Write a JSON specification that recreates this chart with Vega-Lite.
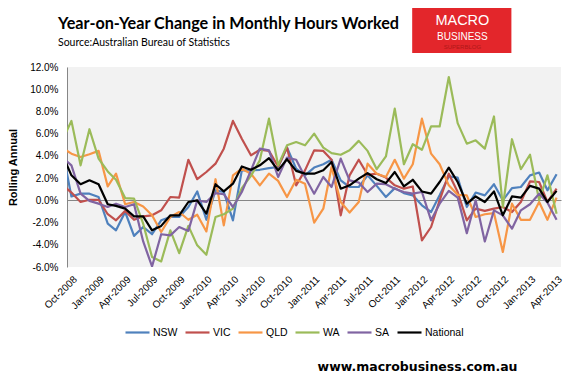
{
 "$schema": "https://vega.github.io/schema/vega-lite/v6.json",
 "width": 494,
 "height": 200,
 "autosize": "none",
 "padding": {"left": 67, "top": 67, "right": 14, "bottom": 113},
 "background": "#ffffff",
 "config": {"view": {"fill": "#F2F2F2", "stroke": null}, "font": "Liberation Sans", "axis": {"labelOverlap": false}},
 "resolve": {"axis": {"x": "independent", "y": "independent"}},
 "title": {
  "text": "Year-on-Year Change in Monthly Hours Worked",
  "subtitle": "Source:Australian Bureau of Statistics",
  "anchor": "start", "frame": "group", "dx": -9, "offset": -40,
  "font": "Lato", "fontSize": 16.2, "fontWeight": "bold", "color": "#000000",
  "subtitleFont": "Lato", "subtitleFontSize": 10.5, "subtitleColor": "#000000", "subtitlePadding": 5
 },
 "layer": [
  {
   "data": {"values": [
    {"month": "2008/09/01", "NSW": 4.45, "VIC": 1.4, "QLD": 4.7, "WA": 5.45, "SA": 3.85, "National": 4.05},
    {"month": "2008/10/01", "NSW": 0.35, "VIC": 0.7, "QLD": 4.2, "WA": 7.15, "SA": 3.15, "National": 2.25},
    {"month": "2008/11/01", "NSW": 0.6, "VIC": -0.15, "QLD": 3.9, "WA": 3.15, "SA": 0.6, "National": 1.45},
    {"month": "2008/12/01", "NSW": 0.6, "VIC": 0.05, "QLD": 4.15, "WA": 6.4, "SA": -0.05, "National": 1.8},
    {"month": "2009/01/01", "NSW": 0.3, "VIC": 0.05, "QLD": 4.45, "WA": 3.75, "SA": -0.3, "National": 1.45},
    {"month": "2009/02/01", "NSW": -2.1, "VIC": -1.25, "QLD": 1.25, "WA": 2.6, "SA": -0.6, "National": -0.35},
    {"month": "2009/03/01", "NSW": -2.7, "VIC": -1.8, "QLD": 2.4, "WA": 1.85, "SA": -0.3, "National": -0.5},
    {"month": "2009/04/01", "NSW": -1.05, "VIC": -0.95, "QLD": -0.35, "WA": 0.2, "SA": -0.6, "National": -0.75},
    {"month": "2009/05/01", "NSW": -3.2, "VIC": -1.75, "QLD": -0.15, "WA": 0.15, "SA": -0.35, "National": -1.45},
    {"month": "2009/06/01", "NSW": -2.4, "VIC": -1.45, "QLD": -0.55, "WA": -2.1, "SA": -3.7, "National": -1.45},
    {"month": "2009/07/01", "NSW": -3.05, "VIC": -1.35, "QLD": -1.35, "WA": -5.1, "SA": -5.95, "National": -2.7},
    {"month": "2009/08/01", "NSW": -1.8, "VIC": -0.9, "QLD": -2.85, "WA": -5.5, "SA": -3.05, "National": -2.3},
    {"month": "2009/09/01", "NSW": -1.5, "VIC": 0.3, "QLD": -1.5, "WA": -2.7, "SA": -3.15, "National": -1.35},
    {"month": "2009/10/01", "NSW": -1.5, "VIC": 0.25, "QLD": -1.05, "WA": -4.75, "SA": -2.4, "National": -1.35},
    {"month": "2009/11/01", "NSW": -0.6, "VIC": 3.65, "QLD": -1.75, "WA": -2.3, "SA": -2.75, "National": -0.15},
    {"month": "2009/12/01", "NSW": 0.8, "VIC": 1.9, "QLD": -1.3, "WA": -4.05, "SA": 0.0, "National": 0.0},
    {"month": "2010/01/01", "NSW": -1.75, "VIC": 2.55, "QLD": -2.8, "WA": -4.9, "SA": -0.15, "National": -1.2},
    {"month": "2010/02/01", "NSW": 0.9, "VIC": 3.3, "QLD": 1.9, "WA": -1.5, "SA": 0.65, "National": 1.45},
    {"month": "2010/03/01", "NSW": 0.75, "VIC": 4.65, "QLD": -2.25, "WA": -1.25, "SA": 0.55, "National": 0.8},
    {"month": "2010/04/01", "NSW": -1.8, "VIC": 7.15, "QLD": 2.25, "WA": -0.75, "SA": -0.6, "National": 1.5},
    {"month": "2010/05/01", "NSW": 2.7, "VIC": 5.55, "QLD": 2.85, "WA": 1.1, "SA": 0.75, "National": 3.05},
    {"month": "2010/06/01", "NSW": 2.7, "VIC": 4.05, "QLD": 2.4, "WA": 2.2, "SA": 2.7, "National": 2.75},
    {"month": "2010/07/01", "NSW": 2.75, "VIC": 4.55, "QLD": 1.35, "WA": 3.6, "SA": 4.65, "National": 3.15},
    {"month": "2010/08/01", "NSW": 2.9, "VIC": 4.45, "QLD": 2.4, "WA": 7.35, "SA": 4.5, "National": 3.8},
    {"month": "2010/09/01", "NSW": 3.0, "VIC": 3.05, "QLD": 1.75, "WA": 3.15, "SA": 2.1, "National": 2.7},
    {"month": "2010/10/01", "NSW": 4.75, "VIC": 4.75, "QLD": 0.3, "WA": 4.95, "SA": 3.85, "National": 3.7},
    {"month": "2010/11/01", "NSW": 2.85, "VIC": 1.35, "QLD": 1.85, "WA": 5.25, "SA": 3.65, "National": 2.65},
    {"month": "2010/12/01", "NSW": 2.25, "VIC": 2.7, "QLD": 1.5, "WA": 4.95, "SA": 2.1, "National": 2.4},
    {"month": "2011/01/01", "NSW": 2.95, "VIC": 4.5, "QLD": -2.0, "WA": 6.0, "SA": 0.6, "National": 2.4},
    {"month": "2011/02/01", "NSW": 3.25, "VIC": 4.45, "QLD": -0.75, "WA": 4.75, "SA": 2.1, "National": 2.7},
    {"month": "2011/03/01", "NSW": 3.65, "VIC": 3.65, "QLD": 3.0, "WA": 4.25, "SA": 1.2, "National": 3.45},
    {"month": "2011/04/01", "NSW": 1.8, "VIC": -1.35, "QLD": -0.15, "WA": 4.1, "SA": 3.75, "National": 1.05},
    {"month": "2011/05/01", "NSW": 1.2, "VIC": 2.25, "QLD": -1.1, "WA": 4.5, "SA": 1.8, "National": 1.35},
    {"month": "2011/06/01", "NSW": 1.2, "VIC": 3.65, "QLD": -0.15, "WA": 5.35, "SA": 1.6, "National": 1.95},
    {"month": "2011/07/01", "NSW": 2.25, "VIC": 2.3, "QLD": 3.3, "WA": 4.45, "SA": 0.75, "National": 2.45},
    {"month": "2011/08/01", "NSW": 1.3, "VIC": 2.4, "QLD": 2.4, "WA": 2.8, "SA": 1.5, "National": 1.9},
    {"month": "2011/09/01", "NSW": 0.3, "VIC": 2.05, "QLD": 2.1, "WA": 3.95, "SA": 1.45, "National": 1.55},
    {"month": "2011/10/01", "NSW": 1.1, "VIC": 1.35, "QLD": 3.65, "WA": 8.25, "SA": 1.05, "National": 2.55},
    {"month": "2011/11/01", "NSW": 0.65, "VIC": 1.05, "QLD": 1.95, "WA": 3.25, "SA": 0.75, "National": 1.25},
    {"month": "2011/12/01", "NSW": 0.45, "VIC": 1.25, "QLD": 3.25, "WA": 5.05, "SA": 0.6, "National": 1.85},
    {"month": "2012/01/01", "NSW": -0.45, "VIC": -3.6, "QLD": 7.35, "WA": 4.55, "SA": 0.75, "National": 0.8},
    {"month": "2012/02/01", "NSW": -1.05, "VIC": -2.4, "QLD": 4.2, "WA": 6.65, "SA": -1.8, "National": 0.6},
    {"month": "2012/03/01", "NSW": 0.45, "VIC": 0.0, "QLD": 3.25, "WA": 6.65, "SA": -0.3, "National": 1.65},
    {"month": "2012/04/01", "NSW": 2.15, "VIC": 2.4, "QLD": 1.35, "WA": 11.1, "SA": 0.85, "National": 2.95},
    {"month": "2012/05/01", "NSW": 2.05, "VIC": 0.75, "QLD": 0.5, "WA": 6.95, "SA": 0.25, "National": 1.65},
    {"month": "2012/06/01", "NSW": -0.6, "VIC": -1.8, "QLD": 0.45, "WA": 5.1, "SA": -2.95, "National": -0.3},
    {"month": "2012/07/01", "NSW": 0.7, "VIC": -0.75, "QLD": -1.5, "WA": 5.4, "SA": 0.0, "National": 0.35},
    {"month": "2012/08/01", "NSW": 0.45, "VIC": -0.95, "QLD": -1.25, "WA": 4.65, "SA": -3.7, "National": -0.15},
    {"month": "2012/09/01", "NSW": 1.45, "VIC": -0.75, "QLD": -1.15, "WA": 7.55, "SA": -0.9, "National": 0.8},
    {"month": "2012/10/01", "NSW": 0.0, "VIC": -0.6, "QLD": -4.65, "WA": -0.6, "SA": -1.35, "National": -1.35},
    {"month": "2012/11/01", "NSW": 1.1, "VIC": -1.05, "QLD": -0.3, "WA": 5.5, "SA": -2.55, "National": 0.35},
    {"month": "2012/12/01", "NSW": 1.2, "VIC": -0.15, "QLD": -1.75, "WA": 2.8, "SA": -0.9, "National": 0.25},
    {"month": "2013/01/01", "NSW": 2.25, "VIC": 1.7, "QLD": -1.75, "WA": 4.1, "SA": -0.35, "National": 1.3},
    {"month": "2013/02/01", "NSW": 2.5, "VIC": 1.65, "QLD": -0.15, "WA": 0.0, "SA": 0.6, "National": 1.05},
    {"month": "2013/03/01", "NSW": 0.9, "VIC": -0.15, "QLD": -1.75, "WA": 2.25, "SA": -0.2, "National": -0.15},
    {"month": "2013/04/01", "NSW": 2.35, "VIC": 1.05, "QLD": 0.25, "WA": -1.2, "SA": -1.75, "National": 0.85}
   ]},
   "transform": [{"fold": ["NSW", "VIC", "QLD", "WA", "SA", "National"], "as": ["series", "value"]}],
   "mark": {"type": "line", "clip": true, "strokeJoin": "round"},
   "encoding": {
    "x": {
     "field": "month", "type": "temporal",
     "scale": {"domain": [{"year": 2008, "month": 9, "date": 16}, {"year": 2013, "month": 4, "date": 16}]},
     "axis": {
      "orient": "bottom",
      "title": "www.macrobusiness.com.au",
      "titleFont": "DejaVu Sans", "titleFontWeight": "bold", "titleFontSize": 12.5, "titleColor": "#000000",
      "titleX": 450, "titleY": 103, "titleAlign": "right", "titleBaseline": "alphabetic",
      "values": [
       {"year": 2008, "month": 10, "date": 1}, {"year": 2009, "month": 1, "date": 1}, {"year": 2009, "month": 4, "date": 1},
       {"year": 2009, "month": 7, "date": 1}, {"year": 2009, "month": 10, "date": 1}, {"year": 2010, "month": 1, "date": 1},
       {"year": 2010, "month": 4, "date": 1}, {"year": 2010, "month": 7, "date": 1}, {"year": 2010, "month": 10, "date": 1},
       {"year": 2011, "month": 1, "date": 1}, {"year": 2011, "month": 4, "date": 1}, {"year": 2011, "month": 7, "date": 1},
       {"year": 2011, "month": 10, "date": 1}, {"year": 2012, "month": 1, "date": 1}, {"year": 2012, "month": 4, "date": 1},
       {"year": 2012, "month": 7, "date": 1}, {"year": 2012, "month": 10, "date": 1}, {"year": 2013, "month": 1, "date": 1},
       {"year": 2013, "month": 4, "date": 1}
      ],
      "format": "%b-%Y", "labelAngle": -45, "labelFont": "Liberation Sans", "labelFontSize": 10, "labelColor": "#000000",
      "labelPadding": 7, "labelOverlap": false, "labelFlush": false, "labelBound": false,
      "domain": false, "ticks": false, "grid": false
     }
    },
    "y": {
     "field": "value", "type": "quantitative",
     "scale": {"domain": [-6, 12], "nice": false, "zero": false},
     "axis": {
      "orient": "left",
      "title": "Rolling Annual",
      "titleFont": "Liberation Sans", "titleFontWeight": "bold", "titleFontSize": 11, "titleColor": "#000000",
      "titleX": -54, "titleY": 100, "titleAlign": "center", "titleBaseline": "middle", "titleAngle": -90,
      "values": [-6, -4, -2, 0, 2, 4, 6, 8, 10, 12],
      "labelExpr": "datum.value + '.0%'", "labelOverlap": false,
      "labelFont": "Liberation Sans", "labelFontSize": 10, "labelColor": "#000000", "labelPadding": 9,
      "ticks": false, "domain": true, "domainColor": "#868686", "domainWidth": 1,
      "grid": true, "gridColor": "#868686", "gridWidth": 1,
      "gridOpacity": {"condition": {"test": "datum.value === 0", "value": 1}, "value": 0}
     }
    },
    "color": {
     "field": "series", "type": "nominal",
     "scale": {"domain": ["NSW", "VIC", "QLD", "WA", "SA", "National"], "range": ["#4F81BD", "#C0504D", "#F79646", "#9BBB59", "#8064A2", "#000000"]},
     "legend": {"orient": "none", "legendX": 57, "legendY": 252, "direction": "horizontal", "title": null,
      "symbolType": "stroke", "symbolSize": 576, "labelFont": "Liberation Sans", "labelFontSize": 10.5, "labelColor": "#000000",
      "columnPadding": 3, "labelOffset": 2, "padding": 0}
    },
    "strokeWidth": {
     "field": "series", "type": "nominal",
     "scale": {"domain": ["NSW", "VIC", "QLD", "WA", "SA", "National"], "range": [2.2, 2.2, 2.2, 2.2, 2.2, 4]},
     "legend": {"orient": "none", "legendX": 57, "legendY": 252, "direction": "horizontal", "title": null,
      "symbolType": "stroke", "symbolSize": 576, "labelFont": "Liberation Sans", "labelFontSize": 10.5, "labelColor": "#000000",
      "columnPadding": 3, "labelOffset": 2, "padding": 0}
    }
   }
  },
  {
   "data": {"values": [{}]},
   "mark": {"type": "rect", "color": "#E3262B"},
   "encoding": {
    "x": {"datum": {"year": 2011, "month": 11, "date": 29}, "type": "temporal", "axis": null},
    "x2": {"datum": {"year": 2012, "month": 10, "date": 30}},
    "y": {"datum": 17.31, "type": "quantitative", "axis": null},
    "y2": {"datum": 13.26}
   }
  },
  {
   "data": {"values": [{"label": "MACRO"}]},
   "mark": {"type": "text", "color": "#ffffff", "font": "Liberation Sans", "fontSize": 14.5, "baseline": "alphabetic", "align": "center"},
   "encoding": {
    "x": {"datum": {"year": 2012, "month": 5, "date": 17}, "type": "temporal", "axis": null},
    "y": {"datum": 15.74, "type": "quantitative", "axis": null},
    "text": {"field": "label"}
   }
  },
  {
   "data": {"values": [{"label": "BUSINESS"}]},
   "mark": {"type": "text", "color": "#ffffff", "font": "Liberation Sans", "fontSize": 10, "baseline": "alphabetic", "align": "center"},
   "encoding": {
    "x": {"datum": {"year": 2012, "month": 5, "date": 17}, "type": "temporal", "axis": null},
    "y": {"datum": 14.47, "type": "quantitative", "axis": null},
    "text": {"field": "label"}
   }
  },
  {
   "data": {"values": [{"label": "SUPERBLOG"}]},
   "mark": {"type": "text", "color": "#B01818", "font": "Liberation Sans", "fontSize": 6, "baseline": "alphabetic", "align": "center"},
   "encoding": {
    "x": {"datum": {"year": 2012, "month": 5, "date": 17}, "type": "temporal", "axis": null},
    "y": {"datum": 13.66, "type": "quantitative", "axis": null},
    "text": {"field": "label"}
   }
  }
 ]
}
